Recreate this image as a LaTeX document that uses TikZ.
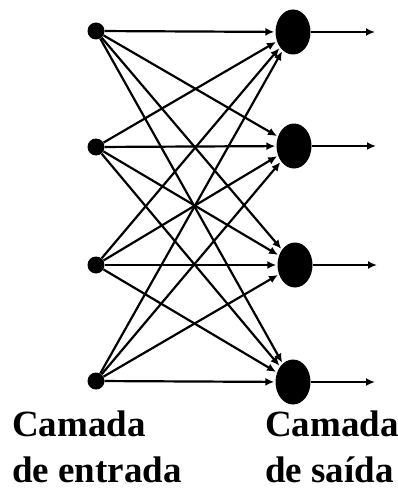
\documentclass[tikz,border=0pt]{standalone}
\usepackage{fontspec}
\setmainfont{Liberation Serif}
\usetikzlibrary{shapes.geometric,calc,arrows.meta}
\begin{document}
\begin{tikzpicture}[x=1pt, y=-1pt, >={Latex[length=9pt,width=8pt]},
    entrada/.style={circle, fill=black, inner sep=0pt, minimum size=17pt},
    saida/.style={ellipse, fill=black, inner sep=0pt, minimum width=35pt, minimum height=45pt},
    ligacao/.style={line width=2.2pt, ->, shorten >=1pt},
    rotulo/.style={anchor=north west, inner sep=0pt, align=left,
        font=\fontsize{37}{46}\selectfont\bfseries}]
    \useasboundingbox (0,0) rectangle (398,492);

    % 1. Camada de entrada
    \node[entrada] (e1) at (96,31) {};
    \node[entrada] (e2) at (96,147) {};
    \node[entrada] (e3) at (96,265) {};
    \node[entrada] (e4) at (96,381) {};

    % 2. Camada de saida
    \node[saida] (s1) at (293,32) {};
    \node[saida] (s2) at (294,146) {};
    \node[saida] (s3) at (295,265) {};
    \node[saida] (s4) at (293,382) {};

    % 3. Ligacoes entre as camadas
    \foreach \i in {1,...,4}
        \foreach \j in {1,...,4}
            \draw[ligacao] (e\i) -- (s\j);

    % 4. Saidas
    \foreach \j in {1,...,4} {
        \coordinate (f\j) at ($(s\j)+(82,0)$);
    }
    \foreach \j in {1,...,4}
        \draw[line width=2.2pt, ->] (s\j) -- (f\j);

    % 5. Rotulos
    \node[rotulo] (le) at (12,411) {Camada\\de entrada};
    \node[rotulo] (ls) at (265,411) {Camada\\de saída};
\end{tikzpicture}
\end{document}
